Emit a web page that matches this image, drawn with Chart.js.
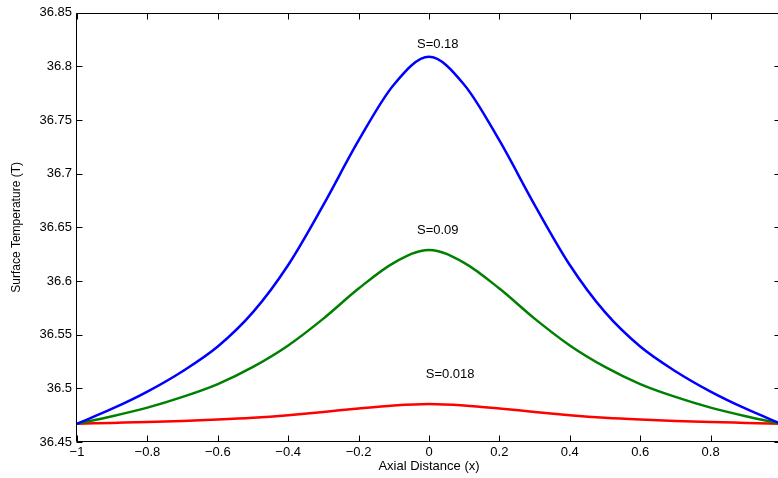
<!DOCTYPE html>
<html>
<head>
<meta charset="utf-8">
<script src="https://cdn.jsdelivr.net/npm/chart.js@4/dist/chart.umd.min.js"></script>
<style>
  html, body { margin: 0; padding: 0; background: #fff; }
  #wrap { width: 778px; height: 478px; overflow: hidden; position: relative; }
  canvas { display: block; }
</style>
</head>
<body>
<div id="wrap"><canvas id="c" width="800" height="478"></canvas></div>
<script>
// ---- data ----
const xValues = [-1, -0.9, -0.8, -0.7, -0.6, -0.5, -0.4, -0.3, -0.2, -0.1, 0,
                 0.1, 0.2, 0.3, 0.4, 0.5, 0.6, 0.7, 0.8, 0.9, 1];
const blueS018 = [36.467, 36.481, 36.497, 36.516, 36.539, 36.571, 36.615, 36.671, 36.731, 36.783, 36.809,
                  36.783, 36.731, 36.671, 36.615, 36.571, 36.539, 36.516, 36.497, 36.481, 36.467];
const greenS009 = [36.467, 36.474, 36.482, 36.492, 36.504, 36.520, 36.540, 36.565, 36.593, 36.617, 36.629,
                   36.617, 36.593, 36.565, 36.540, 36.520, 36.504, 36.492, 36.482, 36.474, 36.467];
const redS0018 = [36.4670, 36.4678, 36.4686, 36.4696, 36.4709, 36.4726, 36.4750, 36.4780, 36.4813, 36.4841, 36.4855,
                  36.4841, 36.4813, 36.4780, 36.4750, 36.4726, 36.4709, 36.4696, 36.4686, 36.4678, 36.4670];

const xTickValues = [-1, -0.8, -0.6, -0.4, -0.2, 0, 0.2, 0.4, 0.6, 0.8, 1];
const xTickLabels = ['\u22121', '\u22120.8', '\u22120.6', '\u22120.4', '\u22120.2', '0', '0.2', '0.4', '0.6', '0.8', '1'];
const yTickValues = [36.45, 36.5, 36.55, 36.6, 36.65, 36.7, 36.75, 36.8, 36.85];
const yTickLabels = ['36.45', '36.5', '36.55', '36.6', '36.65', '36.7', '36.75', '36.8', '36.85'];

const annotationTexts = ['S=0.18', 'S=0.09', 'S=0.018'];
const annotationX = [0.025, 0.025, 0.06];
const annotationY = [36.8207, 36.6475, 36.5128];

const xTitle = 'Axial Distance (x)';
const yTitle = 'Surface Temperature (T)';

const FONT = '"Liberation Sans", Arial, Helvetica, sans-serif';

function pts(ys) { return xValues.map((x, i) => ({ x: x, y: ys[i] })); }

const framePlugin = {
  id: 'frame',
  afterDatasetsDraw(chart) {
    const { ctx, chartArea: a, scales } = chart;
    ctx.save();
    ctx.strokeStyle = '#000';
    ctx.lineWidth = 1;
    const L = Math.round(a.left) - 0.5, R = Math.round(a.right) - 0.5;
    const T = Math.round(a.top) + 0.5, B = Math.round(a.bottom) - 0.5;
    ctx.beginPath();
    ctx.rect(L, T, R - L, B - T);
    ctx.stroke();
    const tl = 6;
    ctx.beginPath();
    scales.x.ticks.forEach(t => {
      const px = Math.round(scales.x.getPixelForValue(t.value)) + 0.5;
      ctx.moveTo(px, B); ctx.lineTo(px, B - tl);
      ctx.moveTo(px, T); ctx.lineTo(px, T + tl);
    });
    scales.y.ticks.forEach(t => {
      const py = Math.round(scales.y.getPixelForValue(t.value)) + 0.5;
      ctx.moveTo(L, py); ctx.lineTo(L + tl, py);
      ctx.moveTo(R, py); ctx.lineTo(R - tl, py);
    });
    ctx.stroke();
    // annotations
    ctx.fillStyle = '#000';
    ctx.font = '13px ' + FONT;
    ctx.textAlign = 'center';
    ctx.textBaseline = 'middle';
    annotationTexts.forEach((txt, i) => {
      ctx.fillText(txt, scales.x.getPixelForValue(annotationX[i]), scales.y.getPixelForValue(annotationY[i]));
    });
    ctx.restore();
  }
};

new Chart(document.getElementById('c'), {
  type: 'line',
  data: {
    datasets: [
      { label: 'S=0.18', data: pts(blueS018), borderColor: '#0000ff' },
      { label: 'S=0.09', data: pts(greenS009), borderColor: '#008000' },
      { label: 'S=0.018', data: pts(redS0018), borderColor: '#ff0000' }
    ]
  },
  options: {
    responsive: false,
    animation: false,
    devicePixelRatio: 1,
    layout: { padding: { top: 11, right: 19, left: 0, bottom: 0 } },
    elements: {
      point: { radius: 0 },
      line: { borderWidth: 2.5, cubicInterpolationMode: 'monotone', fill: false }
    },
    plugins: { legend: { display: false }, tooltip: { enabled: false } },
    scales: {
      x: {
        type: 'linear', min: -1, max: 1,
        afterBuildTicks: s => { s.ticks = xTickValues.map(v => ({ value: v })); },
        afterFit: s => { s.height = 36; },
        grid: { display: false, drawTicks: false },
        border: { display: false },
        ticks: {
          color: '#000', padding: 3, maxRotation: 0, autoSkip: false,
          font: { family: FONT, size: 13 },
          callback: (v) => { const i = xTickValues.findIndex(t => Math.abs(t - v) < 1e-9); return i >= 0 ? xTickLabels[i] : ''; }
        },
        title: { display: true, text: xTitle, color: '#000', font: { family: FONT, size: 13 }, padding: { top: 0, bottom: 4 } }
      },
      y: {
        type: 'linear', min: 36.45, max: 36.85,
        afterBuildTicks: s => { s.ticks = yTickValues.map(v => ({ value: v })); },
        afterFit: s => { s.width = 77; },
        grid: { display: false, drawTicks: false },
        border: { display: false },
        ticks: {
          color: '#000', padding: 5, autoSkip: false,
          font: { family: FONT, size: 13 },
          callback: (v) => { const i = yTickValues.findIndex(t => Math.abs(t - v) < 1e-9); return i >= 0 ? yTickLabels[i] : ''; }
        },
        title: { display: true, text: yTitle, color: '#000', font: { family: FONT, size: 12 }, padding: { top: 9, bottom: 0 } }
      }
    }
  },
  plugins: [framePlugin]
});
</script>
</body>
</html>
